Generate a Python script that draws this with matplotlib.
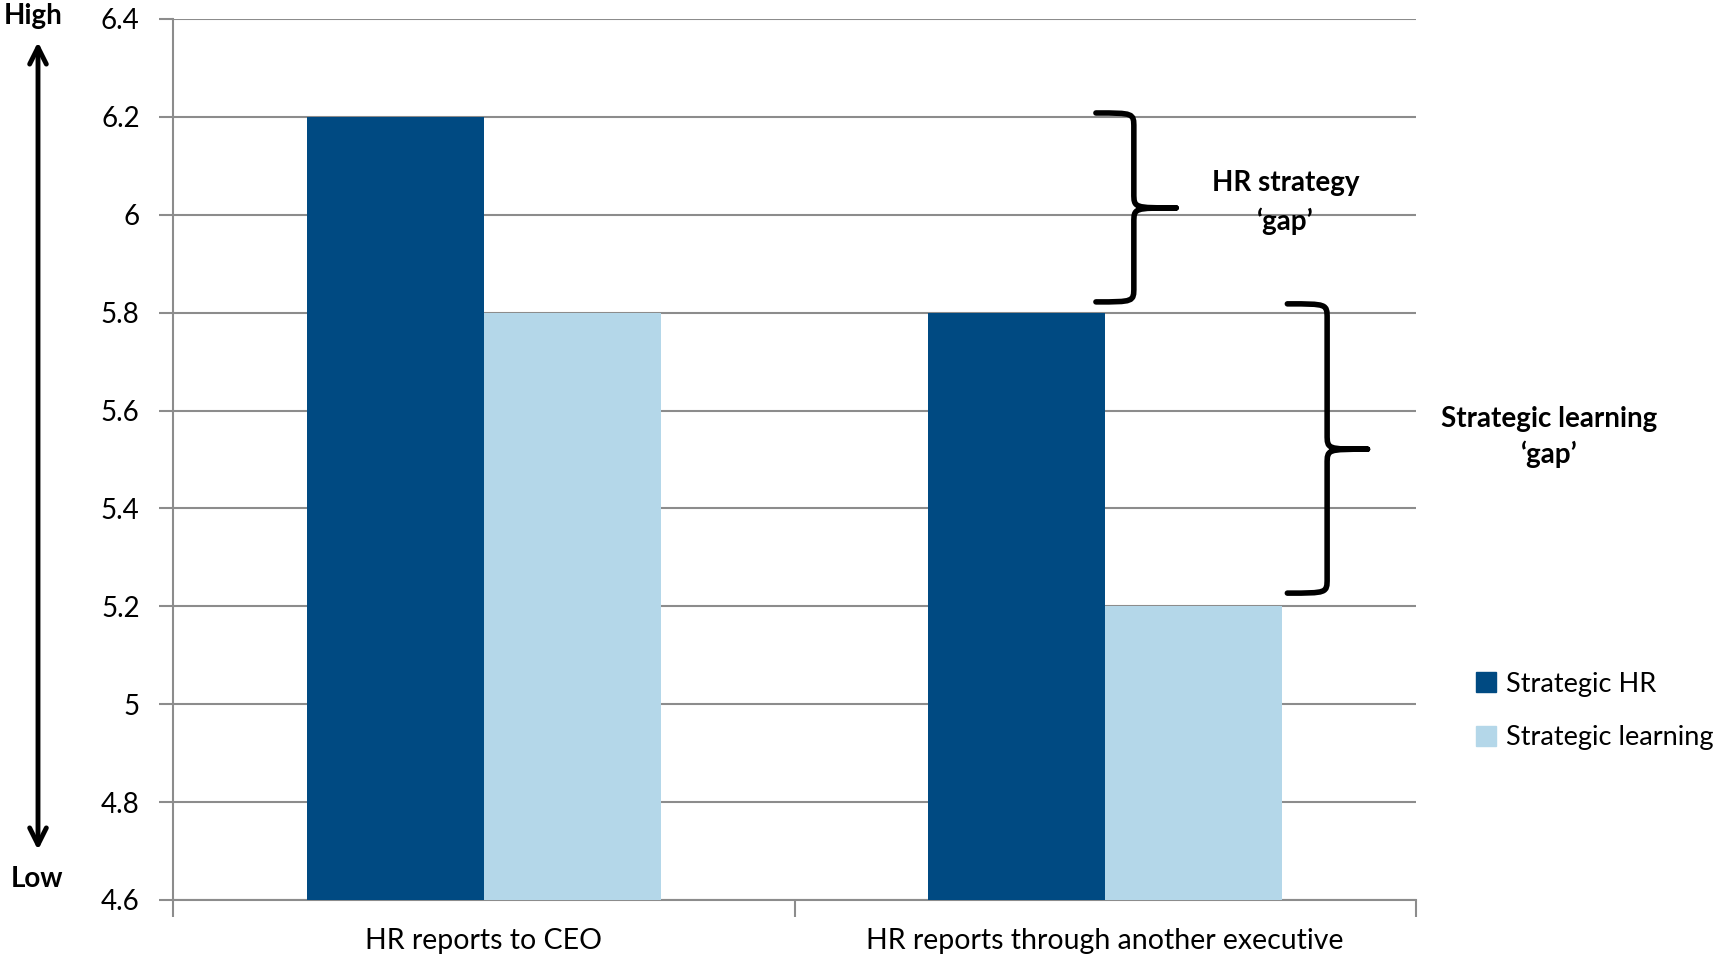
import matplotlib
matplotlib.use("Agg")
import matplotlib.pyplot as plt
from matplotlib.path import Path
from matplotlib.patches import PathPatch, FancyArrowPatch
from matplotlib.lines import Line2D
import numpy as np

categories = ["HR reports to CEO", "HR reports through another executive"]
series_names = ["Strategic HR", "Strategic learning"]
strategic_hr = [6.2, 5.8]
strategic_learning = [5.8, 5.2]
y_ticks = [4.6, 4.8, 5.0, 5.2, 5.4, 5.6, 5.8, 6.0, 6.2, 6.4]
y_tick_labels = ["4.6", "4.8", "5", "5.2", "5.4", "5.6", "5.8", "6", "6.2", "6.4"]

DARK = "#004a82"
LIGHT = "#b4d7e9"
GRID = "#8c8c8c"

plt.rcParams["font.family"] = ["Lato", "DejaVu Sans"]

fig = plt.figure(figsize=(17.29, 9.57), dpi=100)
ax = fig.add_axes([173 / 1729, 57 / 957, 1243 / 1729, 881 / 957])

x = np.arange(len(categories))
w = 0.285
ax.bar(x - w / 2, strategic_hr, width=w, color=DARK, zorder=3, label=series_names[0])
ax.bar(x + w / 2, strategic_learning, width=w, color=LIGHT, zorder=3, label=series_names[1])

ax.set_ylim(4.6, 6.4)
ax.set_xlim(-0.5, 1.5)
ax.set_yticks(y_ticks)
ax.set_yticklabels(y_tick_labels, fontsize=20)
ax.yaxis.grid(True, color=GRID, linewidth=1.5, zorder=0)
ax.tick_params(axis="y", direction="out", length=10, width=1.5, color=GRID, pad=14)

# category boundaries as x ticks, labels centred under each group
ax.set_xticks([-0.5, 0.5, 1.5])
ax.set_xticklabels([])
ax.tick_params(axis="x", direction="out", length=12, width=1.5, color=GRID)
ax.set_xticks(x, minor=True)
ax.set_xticklabels(categories, minor=True, fontsize=20.5)
ax.tick_params(axis="x", which="minor", length=0, pad=20)

for side in ["top", "right"]:
    ax.spines[side].set_visible(False)
for side in ["left", "bottom"]:
    ax.spines[side].set_color(GRID)
    ax.spines[side].set_linewidth(1.5)


def curly_brace(ax, x_end, x_mid, x_tip, y_top, y_bot, y_tip, curl):
    """Right-facing curly brace in data coordinates."""
    dy = curl
    verts = [
        (x_end, y_top),
        (x_mid, y_top), (x_mid, y_top), (x_mid, y_top - dy),
        (x_mid, y_tip + dy),
        (x_mid, y_tip), (x_mid, y_tip), (x_tip, y_tip),
        (x_mid, y_tip), (x_mid, y_tip), (x_mid, y_tip - dy),
        (x_mid, y_bot + dy),
        (x_mid, y_bot), (x_mid, y_bot), (x_end, y_bot),
    ]
    codes = [Path.MOVETO,
             Path.CURVE4, Path.CURVE4, Path.CURVE4,
             Path.LINETO,
             Path.CURVE4, Path.CURVE4, Path.CURVE4,
             Path.CURVE4, Path.CURVE4, Path.CURVE4,
             Path.LINETO,
             Path.CURVE4, Path.CURVE4, Path.CURVE4]
    patch = PathPatch(Path(verts, codes), facecolor="none", edgecolor="black",
                      linewidth=4, capstyle="round", joinstyle="round",
                      zorder=5, clip_on=False)
    ax.add_patch(patch)


curly_brace(ax, 0.985, 1.046, 1.114, 6.208, 5.822, 6.014, 0.03)
curly_brace(ax, 1.293, 1.357, 1.422, 5.818, 5.227, 5.521, 0.03)

ax.text(1.29, 6.025, "HR strategy\n\u2018gap\u2019", ha="center", va="center",
        fontsize=20, fontweight="bold", linespacing=1.5, zorder=6)
ax.text(1.715, 5.546, "Strategic learning\n\u2018gap\u2019", ha="center", va="center",
        fontsize=20, fontweight="bold", linespacing=1.4, clip_on=False, zorder=6)

# High / Low scale indicator on the far left
fig.text(33 / 1729, 1 - 16 / 957, "High", ha="center", va="center",
         fontsize=20, fontweight="bold")
fig.text(37 / 1729, 1 - 879 / 957, "Low", ha="center", va="center",
         fontsize=20, fontweight="bold")
arrow = FancyArrowPatch((38 / 1729, 1 - 850 / 957), (38 / 1729, 1 - 42 / 957),
                        transform=fig.transFigure, arrowstyle="<->",
                        mutation_scale=30, linewidth=3.5, color="black",
                        shrinkA=0, shrinkB=0)
fig.patches.append(arrow)

handles = [Line2D([], [], marker="s", linestyle="none", markersize=14,
                  markerfacecolor=c, markeredgecolor=c) for c in (DARK, LIGHT)]
fig.legend(handles, series_names, loc="center left",
           bbox_to_anchor=(1448 / 1729, 1 - 711 / 957), frameon=False,
           fontsize=19.5, handletextpad=0.25, labelspacing=1.05, handlelength=1.0)

fig.savefig("out.png", dpi=100)
